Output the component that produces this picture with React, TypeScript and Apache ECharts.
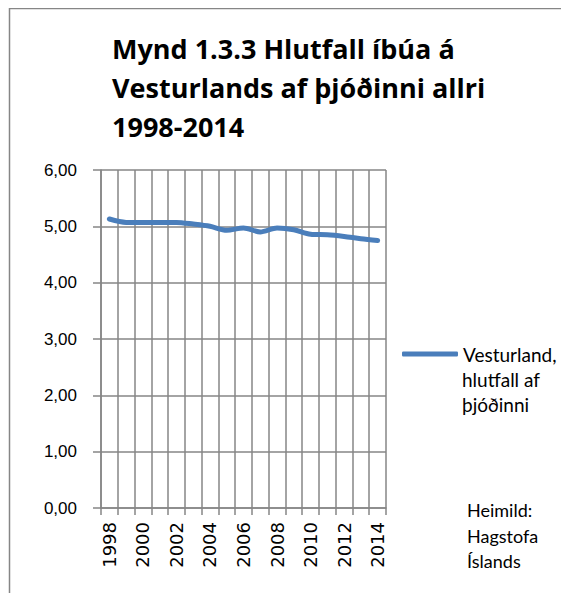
import React, { useEffect, useRef } from "react";
import * as echarts from "echarts";

const years = ["1998","1999","2000","2001","2002","2003","2004","2005","2006","2007","2008","2009","2010","2011","2012","2013","2014"];
const vesturland = [5.13, 5.07, 5.07, 5.07, 5.07, 5.04, 5.0, 4.93, 4.97, 4.9, 4.97, 4.94, 4.86, 4.85, 4.82, 4.78, 4.75];
const titleLines = ["Mynd 1.3.3 Hlutfall íbúa á", "Vesturlands af þjóðinni allri", "1998-2014"];
const legendLines = ["Vesturland,", "hlutfall af", "þjóðinni"];
const sourceLines = ["Heimild:", "Hagstofa", "Íslands"];

export default function App() {
  const ref = useRef<HTMLDivElement>(null);
  useEffect(() => {
    if (!ref.current) return;
    const chart = echarts.init(ref.current, null, { renderer: "svg" });
    const gray = "#868686";
    chart.setOption({
      animation: false,
      backgroundColor: "#ffffff",
      title: {
        text: titleLines.join("\n"),
        left: 104,
        top: 21,
        padding: 0,
        textStyle: { fontFamily: "Open Sans", fontWeight: "bold", fontSize: 27, lineHeight: 39, color: "#000" },
      },
      legend: {
        left: 394,
        top: 334,
        padding: 0,
        itemWidth: 56,
        itemHeight: 5,
        itemGap: 5,
        icon: "roundRect",
        formatter: () => legendLines[0],
        textStyle: { fontFamily: "Lato", fontSize: 19, lineHeight: 24, color: "#000" },
      },
      grid: { left: 93, right: 183, top: 162, bottom: 85, containLabel: false },
      xAxis: {
        type: "category",
        data: years,
        boundaryGap: true,
        axisLine: { show: true, lineStyle: { color: gray, width: 1.5 } },
        axisTick: { show: true, interval: 0, length: 7, lineStyle: { color: gray, width: 1.5 } },
        splitLine: { show: true, interval: 0, lineStyle: { color: gray, width: 1.5 } },
        axisLabel: { interval: 1, rotate: 90, margin: 14, fontFamily: "DejaVu Sans", fontSize: 18, color: "#000" },
      },
      yAxis: {
        type: "value",
        min: 0,
        max: 6,
        interval: 1,
        axisLine: { show: true, lineStyle: { color: gray, width: 1.5 } },
        axisTick: { show: true, length: 8, lineStyle: { color: gray, width: 1.5 } },
        splitLine: { show: true, lineStyle: { color: gray, width: 1.5 } },
        axisLabel: {
          margin: 24,
          fontFamily: "Liberation Sans",
          fontSize: 17,
          color: "#000",
          formatter: (v: number) => v.toFixed(2).replace(".", ","),
        },
      },
      series: [
        {
          name: "Vesturland, hlutfall af þjóðinni",
          type: "line",
          data: vesturland,
          smooth: 0.3,
          showSymbol: false,
          symbol: "none",
          color: "#4A7EBB",
          lineStyle: { width: 5, color: "#4A7EBB", cap: "round", join: "round" },
        },
      ],
      graphic: [
        {
          type: "rect",
          shape: { x: 1.5, y: 0.5, width: 700, height: 700 },
          style: { fill: "none", stroke: gray, lineWidth: 1.5 },
          silent: true,
        },
        ...legendLines.slice(1).map((t, i) => ({
          type: "text",
          x: 454,
          y: 371 + i * 25,
          style: { text: t, font: "19px Lato", fill: "#000", verticalAlign: "middle", align: "left" },
        })),
        ...sourceLines.map((t, i) => ({
          type: "text",
          x: 459,
          y: 502 + i * 25.5,
          style: { text: t, font: "18px Lato", fill: "#000", verticalAlign: "middle", align: "left" },
        })),
      ],
    });
    return () => chart.dispose();
  }, []);
  return <div ref={ref} style={{ width: 561, height: 585 }} />;
}
